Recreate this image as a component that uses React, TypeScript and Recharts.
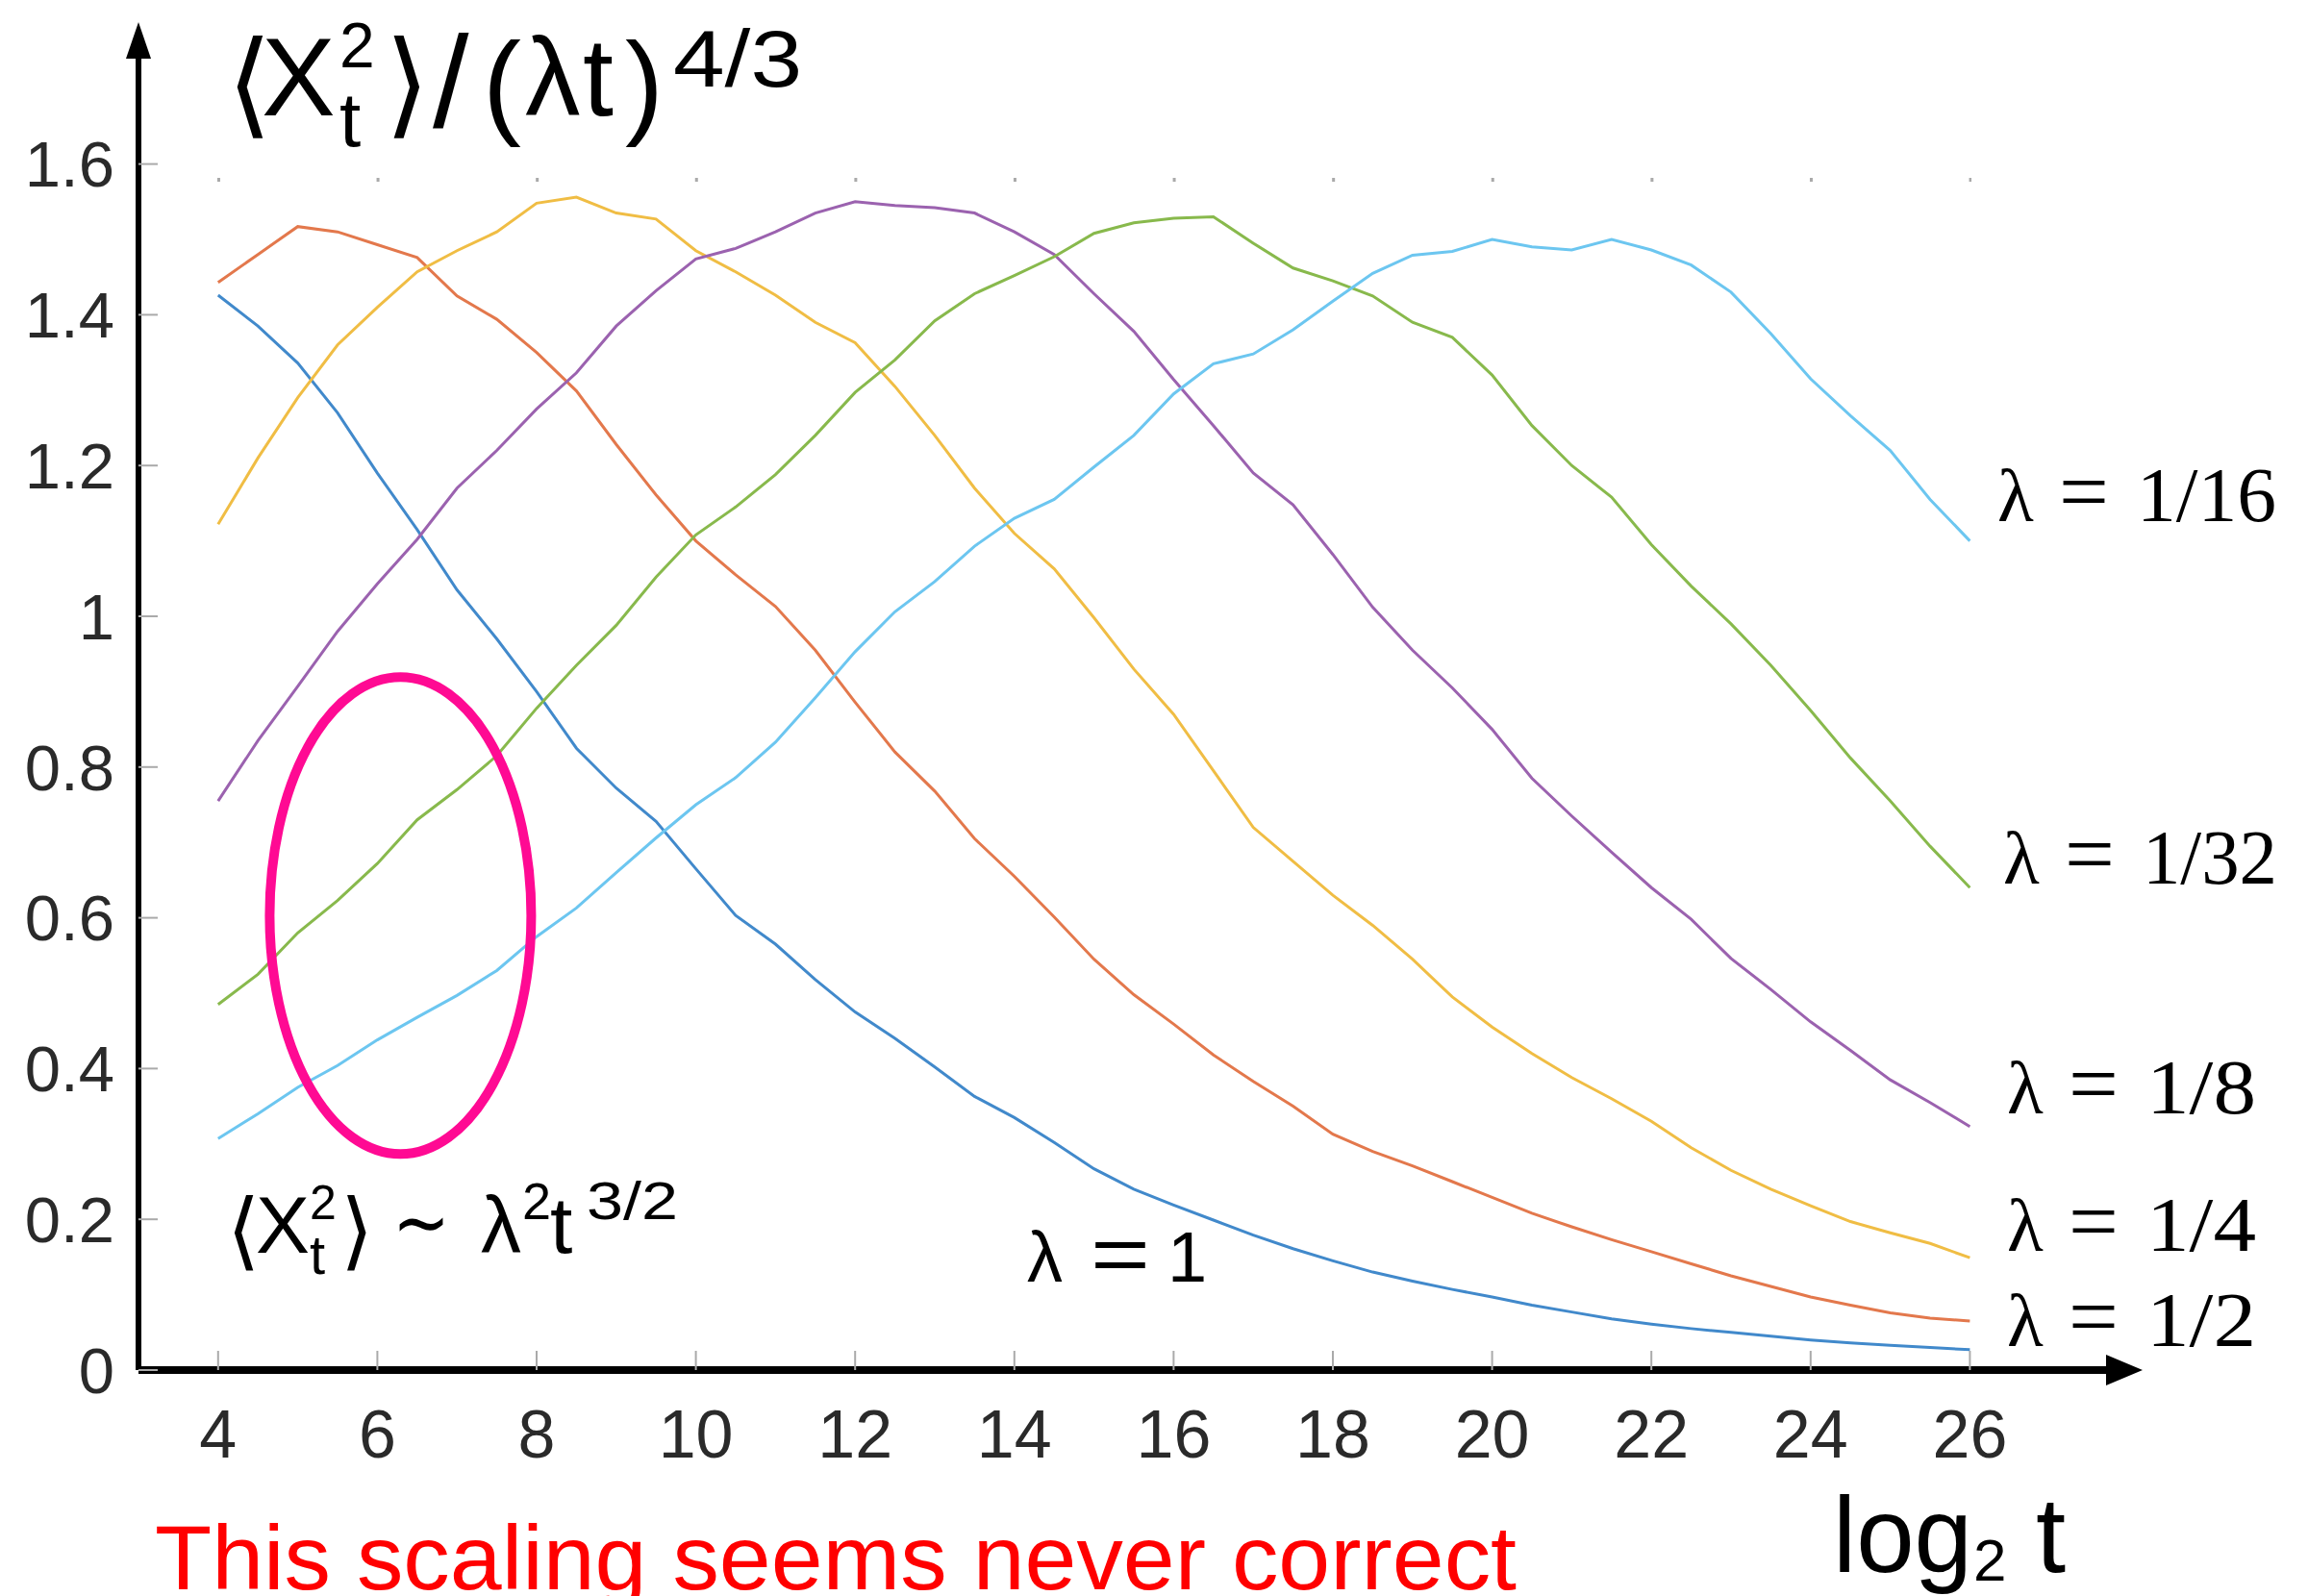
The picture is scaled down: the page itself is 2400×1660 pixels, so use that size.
import { LineChart, Line, XAxis, YAxis, ReferenceLine, ReferenceDot } from 'recharts';

// log2 t sample points
const logT = [4, 4.5, 5, 5.5, 6, 6.5, 7, 7.5, 8, 8.5, 9, 9.5, 10, 10.5, 11, 11.5, 12, 12.5, 13, 13.5, 14, 14.5, 15, 15.5, 16, 16.5, 17, 17.5, 18, 18.5, 19, 19.5, 20, 20.5, 21, 21.5, 22, 22.5, 23, 23.5, 24, 24.5, 25, 25.5, 26];

// <X_t^2>/(lambda t)^(4/3)
const lam1 = [1.426, 1.385, 1.336, 1.27, 1.19, 1.115, 1.035, 0.97, 0.9, 0.825, 0.772, 0.728, 0.665, 0.603, 0.565, 0.518, 0.475, 0.44, 0.402, 0.363, 0.335, 0.302, 0.267, 0.24, 0.219, 0.199, 0.179, 0.161, 0.145, 0.13, 0.118, 0.107, 0.097, 0.086, 0.077, 0.068, 0.061, 0.055, 0.05, 0.045, 0.04, 0.036, 0.033, 0.03, 0.027];
const lamHalf = [1.443, 1.48, 1.517, 1.51, 1.493, 1.476, 1.425, 1.394, 1.35, 1.299, 1.228, 1.161, 1.1, 1.055, 1.013, 0.955, 0.886, 0.82, 0.768, 0.705, 0.655, 0.601, 0.545, 0.498, 0.459, 0.418, 0.383, 0.35, 0.313, 0.29, 0.271, 0.25, 0.229, 0.208, 0.19, 0.173, 0.157, 0.141, 0.125, 0.111, 0.097, 0.086, 0.076, 0.069, 0.065];
const lamQuarter = [1.122, 1.21, 1.29, 1.36, 1.41, 1.457, 1.485, 1.51, 1.548, 1.556, 1.535, 1.527, 1.485, 1.457, 1.426, 1.39, 1.363, 1.305, 1.24, 1.17, 1.11, 1.063, 0.998, 0.93, 0.87, 0.795, 0.72, 0.675, 0.63, 0.59, 0.545, 0.495, 0.455, 0.42, 0.388, 0.36, 0.33, 0.295, 0.265, 0.24, 0.218, 0.197, 0.182, 0.168, 0.149];
const lamEighth = [0.755, 0.835, 0.907, 0.98, 1.043, 1.102, 1.17, 1.22, 1.275, 1.323, 1.385, 1.432, 1.474, 1.488, 1.51, 1.535, 1.55, 1.545, 1.542, 1.535, 1.51, 1.48, 1.428, 1.378, 1.314, 1.253, 1.19, 1.148, 1.082, 1.012, 0.955, 0.905, 0.85, 0.785, 0.735, 0.687, 0.64, 0.598, 0.546, 0.505, 0.462, 0.424, 0.385, 0.355, 0.323];
const lamSixteenth = [0.307, 0.34, 0.375, 0.404, 0.438, 0.468, 0.497, 0.53, 0.575, 0.613, 0.66, 0.706, 0.75, 0.786, 0.833, 0.892, 0.953, 1.006, 1.046, 1.093, 1.13, 1.155, 1.198, 1.24, 1.295, 1.335, 1.348, 1.38, 1.418, 1.455, 1.479, 1.484, 1.5, 1.49, 1.486, 1.5, 1.486, 1.466, 1.43, 1.375, 1.315, 1.266, 1.22, 1.155, 1.1];
const lamThirtySecond = [0.485, 0.525, 0.58, 0.623, 0.672, 0.73, 0.77, 0.815, 0.878, 0.935, 0.988, 1.052, 1.108, 1.145, 1.188, 1.24, 1.297, 1.34, 1.392, 1.428, 1.452, 1.477, 1.508, 1.522, 1.528, 1.53, 1.495, 1.462, 1.445, 1.425, 1.39, 1.37, 1.32, 1.253, 1.2, 1.158, 1.095, 1.04, 0.99, 0.935, 0.875, 0.812, 0.755, 0.695, 0.64];

const xTicks = [4, 6, 8, 10, 12, 14, 16, 18, 20, 22, 24, 26];
const yTicks = [0, 0.2, 0.4, 0.6, 0.8, 1, 1.2, 1.4, 1.6];

const data = logT.map((x, i) => ({
  x,
  l1: lam1[i],
  l2: lamHalf[i],
  l4: lamQuarter[i],
  l8: lamEighth[i],
  l16: lamSixteenth[i],
  l32: lamThirtySecond[i],
}));

const SANS = '"Liberation Sans", "DejaVu Sans", sans-serif';
const SERIF = '"Liberation Serif", "DejaVu Serif", serif';

const ArrowRight = (p: any) => (
  <polygon points={`${p.cx - 24},${p.cy - 16} ${p.cx + 14},${p.cy} ${p.cx - 24},${p.cy + 16}`} fill="#000" />
);
const ArrowUp = (p: any) => (
  <polygon points={`${p.cx - 13},${p.cy + 8} ${p.cx},${p.cy - 30} ${p.cx + 13},${p.cy + 8}`} fill="#000" />
);
const Ellipse = (p: any) => (
  <ellipse cx={p.cx} cy={p.cy} rx={136} ry={248} fill="none" stroke="#ff0a93" strokeWidth={10} />
);

// one "lambda = value" label on the right, pieces placed like TeX spacing
function LamLabel({ x, y, value, width }: { x: number; y: number; value: string; width: number }) {
  return (
    <g fill="#000" fontFamily={SERIF}>
      <text x={x} y={y} fontSize={78}>λ</text>
      <text x={x + 64} y={y} fontSize={92}>=</text>
      <text x={x + 145} y={y} fontSize={80} textLength={width} lengthAdjust="spacingAndGlyphs">{value}</text>
    </g>
  );
}

export default function App() {
  return (
    <div style={{ position: 'absolute', left: 0, top: 0, width: 2400, height: 1660, background: '#fff' }}>
      <LineChart width={2400} height={1660} data={data} margin={{ top: 53, right: 186, bottom: 0, left: 0 }}>
        <XAxis
          dataKey="x"
          type="number"
          domain={[3, 28]}
          ticks={xTicks}
          height={235}
          axisLine={{ stroke: '#000', strokeWidth: 8 }}
          tickLine={{ stroke: '#aaa', strokeWidth: 2 }}
          tickSize={-20}
          tickMargin={61}
          tick={{ fill: '#2a2a2a', fontSize: 70, fontFamily: SANS }}
        />
        <YAxis
          type="number"
          domain={[0, 1.75]}
          ticks={yTicks}
          width={144}
          axisLine={{ stroke: '#000', strokeWidth: 6 }}
          tickLine={{ stroke: '#aaa', strokeWidth: 2 }}
          tickSize={-20}
          tickMargin={45}
          tick={{ fill: '#2a2a2a', fontSize: 67, fontFamily: SANS }}
          tickFormatter={(v: number) => String(v)}
        />
        {/* box ticks along the top of the original frame */}
        <ReferenceLine
          segment={[{ x: 3.99, y: 1.579 }, { x: 26.02, y: 1.579 }]}
          stroke="#aaa"
          strokeWidth={4}
          strokeDasharray="3 162.6"
          ifOverflow="visible"
        />
        <Line dataKey="l1" type="linear" stroke="#4189cb" strokeWidth={3} dot={false} isAnimationActive={false} />
        <Line dataKey="l2" type="linear" stroke="#e3784c" strokeWidth={3} dot={false} isAnimationActive={false} />
        <Line dataKey="l4" type="linear" stroke="#f0bd44" strokeWidth={3} dot={false} isAnimationActive={false} />
        <Line dataKey="l8" type="linear" stroke="#9b62af" strokeWidth={3} dot={false} isAnimationActive={false} />
        <Line dataKey="l32" type="linear" stroke="#88b94c" strokeWidth={3} dot={false} isAnimationActive={false} />
        <Line dataKey="l16" type="linear" stroke="#6cc6f0" strokeWidth={3} dot={false} isAnimationActive={false} />
        <ReferenceDot x={6.29} y={0.603} r={1} shape={Ellipse} ifOverflow="visible" />
        <ReferenceDot x={28} y={0} r={1} shape={ArrowRight} ifOverflow="visible" />
        <ReferenceDot x={3} y={1.75} r={1} shape={ArrowUp} ifOverflow="visible" />
      </LineChart>

      <svg width={2400} height={1660} style={{ position: 'absolute', left: 0, top: 0, pointerEvents: 'none' }}>
        {/* y-axis title */}
        <g fill="#000" fontFamily={SANS}>
          <text x={236} y={128} fontSize={120}>⟨</text>
          <text x={272} y={120} fontSize={115}>X</text>
          <text x={353} y={70} fontSize={66}>2</text>
          <text x={353} y={152} fontSize={80}>t</text>
          <text x={400} y={128} fontSize={120}>⟩</text>
          <text x={450} y={132} fontSize={135}>/</text>
          <text x={502} y={128} fontSize={120}>(</text>
          <text x={546} y={120} fontSize={115}>λ</text>
          <text x={606} y={120} fontSize={115}>t</text>
          <text x={650} y={128} fontSize={120}>)</text>
          <text x={700} y={90} fontSize={84} textLength={134} lengthAdjust="spacingAndGlyphs">4/3</text>
        </g>

        {/* scaling formula */}
        <g fill="#000" fontFamily={SANS}>
          <text x={236} y={1310} fontSize={88}>⟨</text>
          <text x={266} y={1303} fontSize={84}>X</text>
          <text x={322} y={1268} fontSize={50}>2</text>
          <text x={322} y={1325} fontSize={58}>t</text>
          <text x={354} y={1310} fontSize={88}>⟩</text>
          <text x={408} y={1300} fontSize={84} textLength={60} lengthAdjust="spacingAndGlyphs">∼</text>
          <text x={500} y={1303} fontSize={84}>λ</text>
          <text x={543} y={1268} fontSize={54}>2</text>
          <text x={572} y={1303} fontSize={84}>t</text>
          <text x={610} y={1268} fontSize={56} textLength={95} lengthAdjust="spacingAndGlyphs">3/2</text>
        </g>
        <g fill="#000" fontFamily={SANS}>
          <text x={1068} y={1333} fontSize={74}>λ</text>
          <text x={1134} y={1333} fontSize={84} textLength={62} lengthAdjust="spacingAndGlyphs">=</text>
          <text x={1214} y={1333} fontSize={74}>1</text>
        </g>

        {/* curve labels */}
        <LamLabel x={2077} y={542} value="1/16" width={145} />
        <LamLabel x={2083} y={919} value="1/32" width={140} />
        <LamLabel x={2087} y={1158} value="1/8" width={114} />
        <LamLabel x={2087} y={1301} value="1/4" width={114} />
        <LamLabel x={2087} y={1400} value="1/2" width={114} />

        {/* x-axis title */}
        <g fill="#000" fontFamily={SANS}>
          <text x={1906} y={1635} fontSize={112} textLength={145} lengthAdjust="spacingAndGlyphs">log</text>
          <text x={2052} y={1644} fontSize={62}>2</text>
          <text x={2117} y={1635} fontSize={112}>t</text>
        </g>

        <text x={161} y={1653} fill="#ff0000" fontFamily={SANS} fontSize={95} textLength={1416} lengthAdjust="spacingAndGlyphs">
          This scaling seems never correct
        </text>
      </svg>
    </div>
  );
}
